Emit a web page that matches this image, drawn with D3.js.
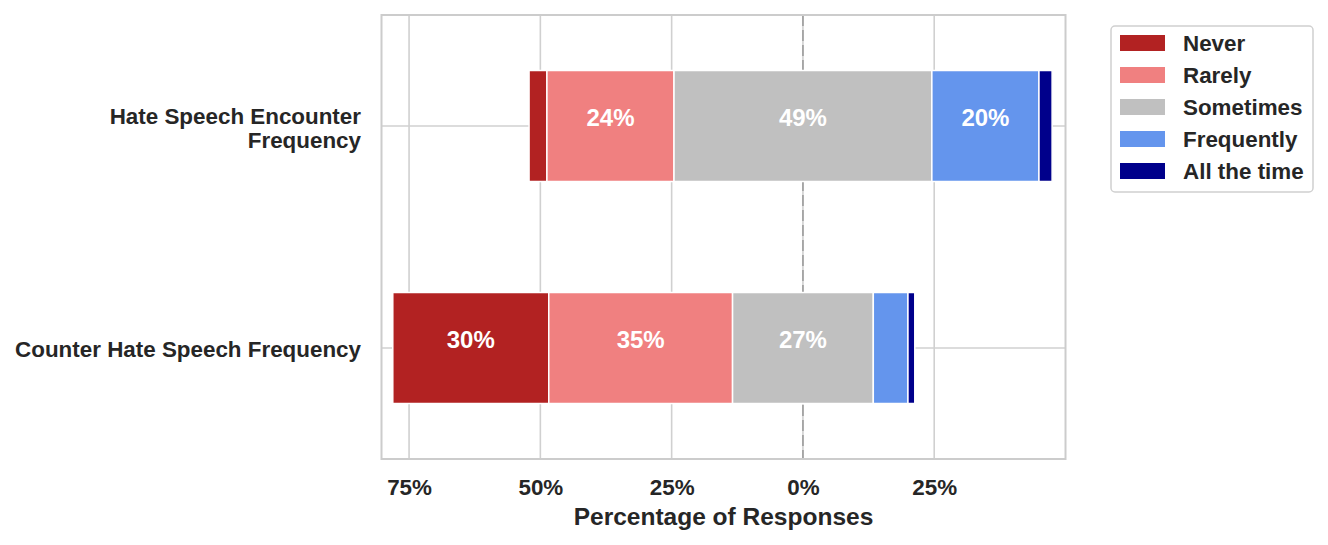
<!DOCTYPE html>
<html>
<head>
<meta charset="utf-8">
<script src="https://cdn.jsdelivr.net/npm/d3@7"></script>
<style>
  html, body { margin: 0; padding: 0; background: #fff; }
  svg { display: block; font-family: "Liberation Sans", Arial, Helvetica, sans-serif; font-weight: bold; }
</style>
</head>
<body>
<svg id="chart" width="1328" height="545"></svg>
<script>
// ---- data ----
const categories = ["Hate Speech Encounter Frequency", "Counter Hate Speech Frequency"];
const categoryLines = [["Hate Speech Encounter", "Frequency"], ["Counter Hate Speech Frequency"]];
const responses = ["Never", "Rarely", "Sometimes", "Frequently", "All the time"];
const colors = ["#b22222", "#f08080", "#c0c0c0", "#6495ed", "#00008b"];
const neverVals      = [3.4, 29.7];
const rarelyVals     = [24.2, 35.0];
const sometimesVals  = [49.1, 26.8];
const frequentlyVals = [20.4, 6.6];
const allTimeVals    = [2.5, 1.3];
const xTicks = [-75, -50, -25, 0, 25];
const xDomain = [-80.25, 50];
const xLabel = "Percentage of Responses";

const seriesVals = [neverVals, rarelyVals, sometimesVals, frequentlyVals, allTimeVals];

// ---- layout ----
const plot = { left: 381.5, right: 1065.5, top: 15, bottom: 459 };
const svg = d3.select("#chart");
const textColor = "#262626";
const labelSize = 22.4;

const x = d3.scaleLinear().domain(xDomain).range([plot.left, plot.right]);
const y = d3.scaleBand().domain(categories).range([plot.top, plot.bottom])
  .paddingInner(0.5).paddingOuter(0.25);

// gridlines
const grid = svg.append("g");
grid.selectAll("line.v").data(xTicks).join("line")
  .attr("x1", d => x(d)).attr("x2", d => x(d))
  .attr("y1", plot.top).attr("y2", plot.bottom)
  .attr("stroke", "#d0d0d0").attr("stroke-width", 1.6);
grid.selectAll("line.h").data(categories).join("line")
  .attr("x1", plot.left).attr("x2", plot.right)
  .attr("y1", d => y(d) + y.bandwidth() / 2).attr("y2", d => y(d) + y.bandwidth() / 2)
  .attr("stroke", "#d0d0d0").attr("stroke-width", 1.6);

// zero dashed line
svg.append("line")
  .attr("x1", x(0)).attr("x2", x(0))
  .attr("y1", plot.top).attr("y2", plot.bottom)
  .attr("stroke", "#a4a4a4").attr("stroke-width", 1.8)
  .attr("stroke-dasharray", "11,4");

// stacked segments
const segs = [];
categories.forEach((c, i) => {
  let start = -(neverVals[i] + rarelyVals[i] + sometimesVals[i] / 2);
  seriesVals.forEach((vals, k) => {
    const v = vals[i];
    segs.push({ cat: c, k, v, x0: start, x1: start + v });
    start += v;
  });
});

svg.append("g").selectAll("rect").data(segs).join("rect")
  .attr("x", d => x(d.x0))
  .attr("width", d => x(d.x1) - x(d.x0))
  .attr("y", d => y(d.cat))
  .attr("height", y.bandwidth())
  .attr("fill", d => colors[d.k])
  .attr("stroke", "#fff").attr("stroke-width", 1.5);

// segment labels
svg.append("g").selectAll("text").data(segs.filter(d => d.v >= 10)).join("text")
  .attr("x", d => x((d.x0 + d.x1) / 2))
  .attr("y", d => y(d.cat) + y.bandwidth() / 2)
  .attr("text-anchor", "middle")
  .attr("fill", "#fff")
  .attr("font-size", 24)
  .text(d => Math.round(d.v) + "%");

// frame
svg.append("rect")
  .attr("x", plot.left).attr("y", plot.top)
  .attr("width", plot.right - plot.left).attr("height", plot.bottom - plot.top)
  .attr("fill", "none").attr("stroke", "#cccccc").attr("stroke-width", 2);

// x axis tick labels
const xAxis = d3.axisBottom(x).tickValues(xTicks).tickSize(0).tickPadding(0)
  .tickFormat(d => Math.abs(d) + "%");
const gx = svg.append("g").attr("transform", `translate(0,${plot.bottom})`).call(xAxis);
gx.select(".domain").remove();
gx.selectAll("text")
  .attr("y", 36).attr("dy", 0)
  .attr("fill", textColor)
  .attr("font-size", labelSize)
  .attr("font-family", "Liberation Sans, Arial, sans-serif")
  .attr("font-weight", "bold");

// x label
svg.append("text")
  .attr("x", (plot.left + plot.right) / 2)
  .attr("y", 525)
  .attr("text-anchor", "middle")
  .attr("fill", textColor)
  .attr("font-size", 24.5)
  .text(xLabel);

// y category labels
const yAxis = svg.append("g");
categories.forEach((c, i) => {
  const lines = categoryLines[i];
  const cy = y(c) + y.bandwidth() / 2;
  const lh = 23.5;
  const firstBaseline = cy + 8.5 - (lines.length - 1) * 10.5;
  const t = yAxis.append("text")
    .attr("text-anchor", "end")
    .attr("fill", textColor)
    .attr("font-size", labelSize);
  lines.forEach((ln, j) => {
    t.append("tspan").attr("x", 361).attr("y", firstBaseline + j * lh).text(ln);
  });
});

// legend
const lg = svg.append("g");
lg.append("rect")
  .attr("x", 1111).attr("y", 26).attr("width", 202).attr("height", 166)
  .attr("rx", 4).attr("ry", 4)
  .attr("fill", "#fff").attr("stroke", "#d0d0d0").attr("stroke-width", 1.5);
const items = lg.selectAll("g.item").data(responses).join("g")
  .attr("transform", (d, i) => `translate(1120,${43 + i * 32})`);
items.append("rect")
  .attr("x", 0).attr("y", -8).attr("width", 45).attr("height", 16)
  .attr("fill", (d, i) => colors[i]);
items.append("text")
  .attr("x", 63).attr("y", 0).attr("dy", "0.36em")
  .attr("fill", textColor)
  .attr("font-size", labelSize)
  .text(d => d);
</script>
</body>
</html>
